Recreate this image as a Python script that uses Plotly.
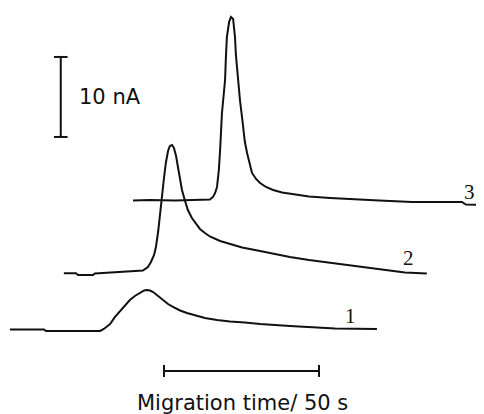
import plotly.graph_objects as go

# Electropherograms: migration time (s) vs current (nA), traces offset vertically
t1 = [3.2, 14.2, 14.8, 32.3, 33.5, 35.5, 37.1, 38.7, 40.3, 41.9, 43.5, 45.2, 46.5, 47.4, 48.4, 49.4,
      51.0, 52.6, 54.2, 55.8, 58.1, 60.3, 62.9, 66.1, 70.0, 74.2, 79.0, 83.9, 93.5, 103.2, 108.1, 121.6]
i1 = [10.56, 10.56, 10.38, 10.38, 10.63, 11.25, 12.13, 12.88, 13.63, 14.25, 14.75, 15.19, 15.44, 15.5, 15.44, 15.25,
      14.75, 14.25, 13.75, 13.38, 12.94, 12.63, 12.31, 12.0, 11.75, 11.56, 11.44, 11.25, 11.0, 10.81, 10.69, 10.63]

t2 = [20.6, 24.5, 25.2, 30.0, 30.6, 37.1, 41.9, 46.1, 47.7, 48.7, 49.7, 50.3, 51.0, 51.6, 52.3, 52.9,
      53.5, 54.2, 54.8, 55.5, 56.1, 56.8, 57.4, 58.1, 58.7, 59.7, 60.6, 61.9, 63.2, 64.5, 66.1, 67.7,
      71.0, 74.2, 78.1, 83.9, 88.7, 93.5, 99.7, 104.8, 110.3, 116.1, 121.0, 125.8, 130.6, 137.7]
i2 = [17.59, 17.59, 17.38, 17.38, 17.56, 17.69, 17.81, 17.94, 18.38, 19.0, 19.88, 20.88, 22.75, 25.13, 27.25, 29.5,
      31.38, 32.88, 33.5, 33.63, 33.25, 32.25, 30.88, 29.38, 28.0, 26.63, 25.5, 24.5, 23.75, 23.13, 22.63, 22.19,
      21.63, 21.25, 20.81, 20.38, 20.0, 19.63, 19.25, 19.0, 18.75, 18.44, 18.25, 17.94, 17.69, 17.56]

t3 = [42.9, 48.4, 56.5, 64.5, 67.7, 68.7, 69.4, 70.0, 70.6, 71.0, 71.6, 72.3, 72.6, 72.9, 73.2, 73.9,
      74.5, 75.2, 75.8, 76.1, 76.5, 77.1, 77.4, 78.1, 78.4, 79.0, 79.7, 80.6, 81.3, 82.6, 83.9, 85.8,
      88.1, 91.0, 96.8, 99.7, 106.5, 114.5, 122.3, 132.9, 149.0, 150.3, 155.5]
i3 = [26.69, 26.75, 26.69, 26.75, 26.81, 27.13, 27.63, 28.38, 30.5, 33.0, 37.63, 40.5, 41.75, 44.88, 47.13, 49.0,
      49.63, 49.38, 47.13, 44.88, 43.0, 40.75, 39.25, 37.0, 35.88, 34.0, 32.63, 31.0, 30.13, 29.38, 28.88, 28.38,
      28.0, 27.69, 27.38, 27.19, 27.0, 26.88, 26.69, 26.5, 26.5, 26.19, 26.13]

trace_labels = ["1", "2", "3"]
label_t = [113.2, 131.9, 151.3]
label_i = [12.25, 19.5, 27.75]

# Scale bars
vbar_t = 19.6
vbar_i = [34.63, 44.63]          # 10 nA
hbar_t = [52.9, 102.9]           # 50 s
hbar_i = 5.38

ink = "#111111"
fig = go.Figure()
for t, i in [(t1, i1), (t2, i2), (t3, i3)]:
    fig.add_trace(go.Scatter(x=t, y=i, mode="lines", line=dict(color=ink, width=2),
                             showlegend=False, hoverinfo="skip", cliponaxis=False))

for lab, x, y in zip(trace_labels, label_t, label_i):
    fig.add_annotation(x=x, y=y, text=lab, showarrow=False,
                       font=dict(family="Liberation Serif", size=21, color=ink))

shapes = []
# vertical current scale bar
shapes.append(dict(type="line", x0=vbar_t, x1=vbar_t, y0=vbar_i[0], y1=vbar_i[1]))
for yv in vbar_i:
    shapes.append(dict(type="line", x0=vbar_t - 2.2, x1=vbar_t + 2.2, y0=yv, y1=yv))
# horizontal time scale bar
shapes.append(dict(type="line", x0=hbar_t[0], x1=hbar_t[1], y0=hbar_i, y1=hbar_i))
for xv in hbar_t:
    shapes.append(dict(type="line", x0=xv, x1=xv, y0=hbar_i - 0.75, y1=hbar_i + 0.75))
for s in shapes:
    s.update(xref="x", yref="y", line=dict(color=ink, width=2))
fig.update_layout(shapes=shapes)

fig.add_annotation(x=35.6, y=39.6, text="10 nA", showarrow=False,
                   font=dict(family="DejaVu Sans", size=21, color=ink))
fig.add_annotation(x=78.1, y=1.4, text="Migration time/ 50 s", showarrow=False,
                   font=dict(family="DejaVu Sans", size=21, color=ink))

# The page body has an 8 px margin, so the figure covers page pixels 8..484 x 8..414
fig.update_xaxes(range=[8 / 3.1, 484 / 3.1], visible=False, fixedrange=True)
fig.update_yaxes(range=[0, (414 - 8) / 8], visible=False, fixedrange=True)
fig.update_layout(width=476, height=406, margin=dict(l=0, r=0, t=0, b=0),
                  paper_bgcolor="white", plot_bgcolor="white")

fig.write_html("out.html")
